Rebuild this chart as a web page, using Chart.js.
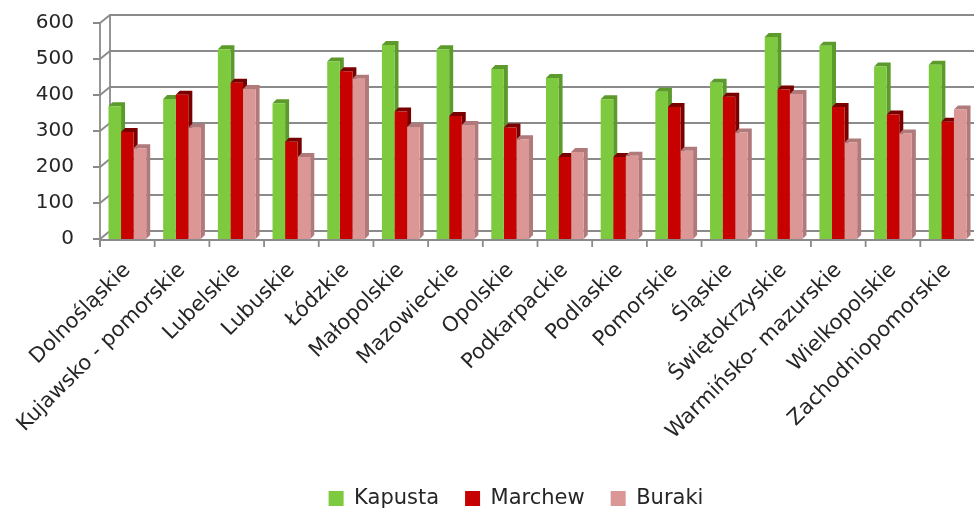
<!DOCTYPE html>
<html>
<head>
<meta charset="utf-8">
<script src="https://cdn.jsdelivr.net/npm/chart.js@4.4.1/dist/chart.umd.min.js"></script>
<style>
  html, body { margin: 0; padding: 0; overflow: hidden; background: #fff; }
  #wrap { width: 1032px; height: 509px; }
</style>
</head>
<body>
<div id="wrap"><canvas id="chart"></canvas></div>
<script>
const categories = [
  "Dolnośląskie", "Kujawsko - pomorskie", "Lubelskie", "Lubuskie", "Łódzkie",
  "Małopolskie", "Mazowieckie", "Opolskie", "Podkarpackie", "Podlaskie",
  "Pomorskie", "Śląskie", "Świętokrzyskie", "Warmińsko- mazurskie",
  "Wielkopolskie", "Zachodniopomorskie"
];
const kapusta = [369, 389, 527, 377, 493, 539, 527, 472, 447, 388, 409, 434, 561, 537, 479, 484];
const marchew = [297, 401, 434, 270, 466, 354, 342, 310, 228, 228, 367, 395, 415, 367, 346, 326];
const buraki = [252, 309, 417, 228, 445, 311, 317, 277, 242, 231, 245, 296, 403, 268, 293, 360];
const yTicks = [0, 100, 200, 300, 400, 500, 600];

// 3D look: back wall offset and bar depth
const WALL_DX = 10;
const WALL_DY = 8;
const BAR_D = 4;

const sideColors = ["#5c9a2c", "#7a0000", "#b07a7a"];

const wallPlugin = {
  id: "wall",
  beforeDatasetsDraw(chart) {
    const { ctx, chartArea: a, scales: { y } } = chart;
    ctx.save();
    ctx.strokeStyle = "#8a8a8a";
    ctx.lineWidth = 1.8;
    yTicks.forEach((v) => {
      const py = y.getPixelForValue(v);
      ctx.beginPath();
      ctx.moveTo(a.left - 7, py);
      ctx.lineTo(a.left, py);
      ctx.lineTo(a.left + WALL_DX, py - WALL_DY);
      ctx.lineTo(chart.width, py - WALL_DY);
      ctx.stroke();
    });
    // front and back vertical edges of the left wall
    ctx.beginPath();
    ctx.moveTo(a.left, a.top);
    ctx.lineTo(a.left, a.bottom + 8);
    ctx.moveTo(a.left + WALL_DX, a.top - WALL_DY);
    ctx.lineTo(a.left + WALL_DX, a.bottom - WALL_DY);
    ctx.stroke();

    // side and top faces of the bars, behind every front face
    chart.data.datasets.forEach((ds, i) => {
      ctx.fillStyle = sideColors[i];
      chart.getDatasetMeta(i).data.forEach((bar) => {
        const { x, y, base, width } = bar.getProps(["x", "y", "base", "width"], true);
        const l = x - width / 2;
        const r = x + width / 2;
        ctx.beginPath();
        ctx.moveTo(l, y);
        ctx.lineTo(l + BAR_D, y - BAR_D);
        ctx.lineTo(r + BAR_D, y - BAR_D);
        ctx.lineTo(r + BAR_D, base - BAR_D);
        ctx.lineTo(r, base);
        ctx.lineTo(r, y);
        ctx.closePath();
        ctx.fill();
      });
    });
    ctx.restore();
  },
  afterDatasetsDraw(chart) {
    const { ctx, chartArea: a, scales: { x } } = chart;
    ctx.save();
    ctx.strokeStyle = "#8a8a8a";
    ctx.lineWidth = 1.8;
    ctx.beginPath();
    ctx.moveTo(a.left, a.bottom + 1);
    ctx.lineTo(chart.width, a.bottom + 1);
    for (let i = 0; i <= categories.length; i++) {
      const px = x.getPixelForValue(i - 0.5);
      ctx.moveTo(px, a.bottom + 1);
      ctx.lineTo(px, a.bottom + 8);
    }
    ctx.stroke();
    ctx.restore();
  },
};

Chart.defaults.font.family = "'DejaVu Sans', Verdana, sans-serif";
Chart.defaults.color = "#262626";

const ctx = document.getElementById("chart").getContext("2d");

const myChart = new Chart(ctx, {
  type: "bar",
  data: {
    labels: categories,
    datasets: [
      { label: "Kapusta", data: kapusta, backgroundColor: "#7dca3e" },
      { label: "Marchew", data: marchew, backgroundColor: "#c70000" },
      { label: "Buraki", data: buraki, backgroundColor: "#db9696" },
    ],
  },
  options: {
    responsive: true,
    maintainAspectRatio: false,
    animation: false,
    devicePixelRatio: 1,
    layout: { padding: { left: 0, right: 0, top: 23, bottom: -10 } },
    datasets: {
      bar: { categoryPercentage: 0.69, barPercentage: 1, borderWidth: 0 },
    },
    scales: {
      x: {
        grid: { display: false, drawTicks: false },
        border: { display: false },
        ticks: {
          autoSkip: false,
          minRotation: 45,
          maxRotation: 45,
          padding: 19,
          font: { size: 21 },
        },
        afterFit(scale) {
          scale.height = 223;
        },
      },
      y: {
        min: 0,
        max: 600,
        grid: { display: false, drawTicks: false },
        border: { display: false },
        ticks: { stepSize: 100, padding: 26, font: { size: 20 } },
        afterFit(scale) {
          scale.width = 100;
          scale.paddingTop = 0;
          scale.paddingBottom = 0;
        },
      },
      // empty right-hand strip, so the plot stops where the reference crop does
      spare: {
        position: "right",
        grid: { display: false, drawTicks: false },
        border: { display: false },
        ticks: { display: false },
        afterFit(scale) {
          scale.width = 57;
        },
      },
    },
    plugins: {
      legend: {
        position: "bottom",
        labels: {
          boxWidth: 15,
          boxHeight: 15,
          padding: 26,
          font: { size: 21 },
        },
      },
      tooltip: { enabled: false },
    },
  },
  plugins: [wallPlugin],
});
</script>
</body>
</html>
